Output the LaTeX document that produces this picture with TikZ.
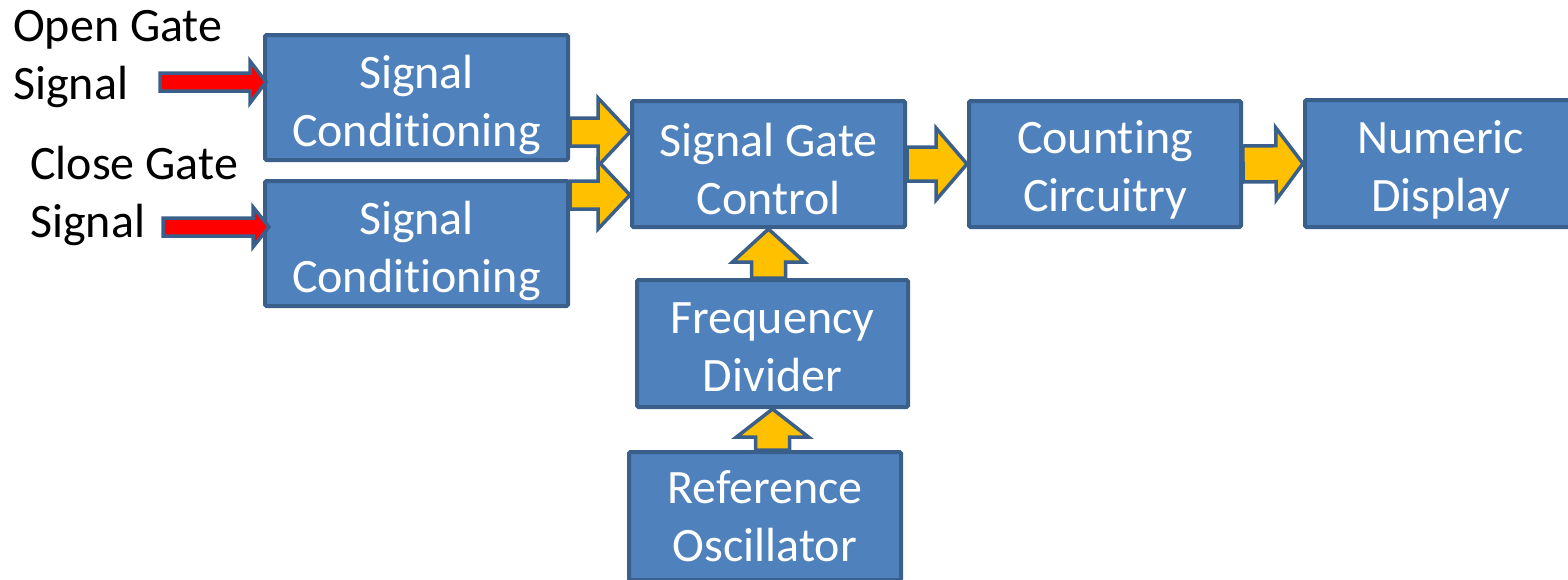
\documentclass[tikz,border=0pt]{standalone}
\usepackage{fontspec}
\setmainfont[Ligatures=NoCommon]{Carlito}
\usetikzlibrary{calc}
\pgfdeclarelayer{bg}
\pgfsetlayers{bg,main}
\definecolor{boxfill}{HTML}{4F81BD}
\definecolor{boxline}{HTML}{3A5F8B}
\definecolor{ylw}{HTML}{FFC000}
\definecolor{redarr}{HTML}{FF0000}
\tikzset{
  blk/.style={draw=boxline, fill=boxfill, line width=4pt, inner sep=0pt, rounded corners=1.5pt},
  btxt/.style={text=white, align=center, font=\fontsize{48}{58}\selectfont, inner sep=0pt},
  lbl/.style={align=left, font=\fontsize{48}{58}\selectfont, inner sep=0pt, anchor=north west, text=black},
  yarrow/.style={draw=boxline, fill=ylw, line width=3.5pt, line join=miter},
  rarrow/.style={draw=boxline, fill=redarr, line width=3.5pt, line join=miter},
}
% #1 style, #2 start, #3 tip, #4 shaft half width, #5 head half width, #6 head length
\newcommand\blockarrow[6]{%
  \path ($(#3)!#6!(#2)$) coordinate (ba-c);
  \draw[#1] ($(#2)!#4!90:(#3)$) -- ($(ba-c)!#4!90:(#3)$) -- ($(ba-c)!#5!90:(#3)$) -- (#3)
     -- ($(ba-c)!#5!-90:(#3)$) -- ($(ba-c)!#4!-90:(#3)$) -- ($(#2)!#4!-90:(#3)$) -- cycle;
}
\begin{document}
\begin{tikzpicture}[x=1pt,y=-1pt]
\useasboundingbox (0,0) rectangle (1568,579);
% boxes
\node[blk, minimum width=303pt, minimum height=125pt] (sc1) at (416.5,97.5) {};
\node[blk, minimum width=303pt, minimum height=125pt] (sc2) at (416.5,243.5) {};
\node[blk, minimum width=273pt, minimum height=126pt] (sgc) at (768.5,164) {};
\node[blk, minimum width=272pt, minimum height=126pt] (cnt) at (1105,164) {};
\node[blk, minimum width=272pt, minimum height=127pt] (num) at (1441,163.5) {};
\node[blk, minimum width=271pt, minimum height=127pt] (fd) at (772.5,343.5) {};
\node[blk, minimum width=272pt, minimum height=128pt] (ro) at (765,516) {};
% box texts
\node[btxt] (sc1t) at ([yshift=-7pt]sc1.center) {Signal\\Conditioning};
\node[btxt] (sc2t) at ([yshift=-7pt]sc2.center) {Signal\\Conditioning};
\node[btxt] (sgct) at ([yshift=-5pt]sgc.center) {Signal Gate\\Control};
\node[btxt] (cntt) at ([yshift=-6pt]cnt.center) {Counting\\Circuitry};
\node[btxt] (numt) at ([yshift=-6pt]num.center) {Numeric\\Display};
\node[btxt] (fdt) at ([yshift=-4pt]fd.center) {Frequency\\Divider};
\node[btxt] (rot) at ([yshift=0pt]ro.center) {Reference\\Oscillator};
% labels
\node[lbl] (open) at (13,10) {Open Gate\\Signal};
\node[lbl] (close) at (30,146) {Close Gate\\Signal};
% connector end points
\coordinate (a1e) at ([yshift=32pt]sgc.west);
\coordinate (a1s) at (sc1.east |- a1e);
\coordinate (a2e) at ([yshift=-31pt]sgc.west);
\coordinate (a2s) at (sc2.east |- a2e);
\coordinate (a3s) at (sgc.east);
\coordinate (a3e) at (cnt.west);
\coordinate (a4s) at (cnt.east);
\coordinate (a4e) at (num.west);
\coordinate (a5s) at (sgc.south |- fd.north);
\coordinate (a6s) at (fd.south |- ro.north);
\begin{pgfonlayer}{bg}
\blockarrow{yarrow}{a1s}{a1e}{14pt}{34pt}{32pt}
\blockarrow{yarrow}{a2s}{a2e}{14pt}{34pt}{32pt}
\blockarrow{yarrow}{a3s}{a3e}{17pt}{36pt}{31pt}
\blockarrow{yarrow}{a4s}{a4e}{18pt}{36pt}{27pt}
\blockarrow{yarrow}{a5s}{sgc.south}{17pt}{36pt}{33pt}
\blockarrow{yarrow}{a6s}{fd.south}{17pt}{36pt}{28pt}
\end{pgfonlayer}
% red input arrows
\coordinate (r1s) at (160,82);
\coordinate (r1e) at ($(sc1.west |- r1s)+(3,0)$);
\coordinate (r2s) at (163,227);
\coordinate (r2e) at ($(sc2.west |- r2s)+(6,0)$);
\blockarrow{rarrow}{r1s}{r1e}{9pt}{21pt}{16pt}
\blockarrow{rarrow}{r2s}{r2e}{9pt}{20pt}{16pt}
\end{tikzpicture}
\end{document}
